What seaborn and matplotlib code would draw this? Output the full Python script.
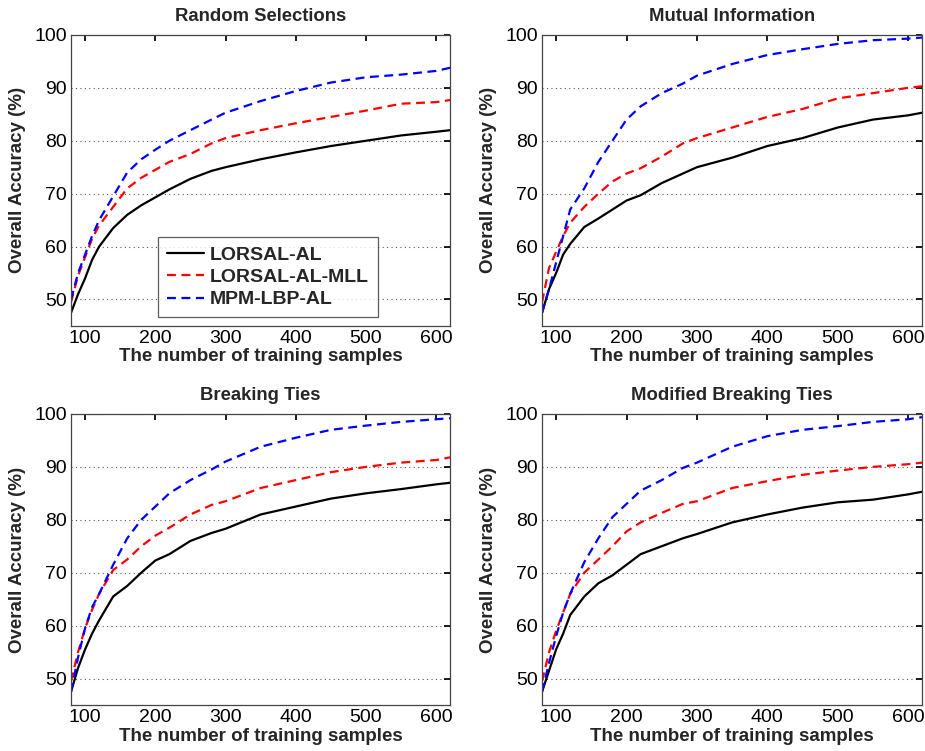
import pandas as pd
import matplotlib
matplotlib.use("Agg")
import matplotlib.pyplot as plt
import seaborn as sns

# Data
samples = [80, 90, 100, 110, 120, 140, 160, 180, 200, 220, 250, 280, 300, 350, 400, 450, 500, 550, 600, 620]

methods = ["LORSAL-AL", "LORSAL-AL-MLL", "MPM-LBP-AL"]
titles = ["Random Selections", "Mutual Information", "Breaking Ties", "Modified Breaking Ties"]

rs_lorsal = [47.5, 51, 54, 57.5, 60, 63.5, 66, 67.8, 69.3, 70.8, 72.8, 74.3, 75, 76.5, 77.8, 79, 80, 81, 81.7, 82]
rs_mll = [49.5, 54.5, 58, 61.5, 64, 67.5, 71, 73, 74.5, 76, 77.5, 79.5, 80.5, 82, 83.3, 84.5, 85.7, 87, 87.3, 87.7]
rs_mpm = [50, 55, 58.5, 62, 65, 69.5, 74, 76.5, 78.3, 80, 82, 84, 85.3, 87.5, 89.4, 91, 92, 92.5, 93.2, 93.8]

mi_lorsal = [47.5, 52, 55, 58.5, 60.5, 63.7, 65.3, 67, 68.7, 69.7, 72, 73.8, 75, 76.8, 79, 80.5, 82.5, 84, 84.8, 85.3]
mi_mll = [49.5, 56, 59, 62, 64.5, 67.5, 70, 72.3, 73.8, 74.8, 77, 79.5, 80.5, 82.5, 84.5, 86, 88, 89, 90, 90.3]
mi_mpm = [47.5, 52, 57, 62, 67, 71, 76, 80, 84, 86.5, 89, 90.8, 92.3, 94.5, 96.2, 97.3, 98.3, 99, 99.3, 99.5]

bt_lorsal = [47.5, 52, 55.5, 58.5, 61, 65.5, 67.5, 70, 72.3, 73.5, 76, 77.5, 78.3, 81, 82.5, 84, 85, 85.8, 86.7, 87]
bt_mll = [49.5, 55, 59.5, 63, 66, 70.5, 72.5, 75, 77, 78.5, 81, 82.8, 83.5, 86, 87.5, 89, 90, 90.8, 91.3, 91.8]
bt_mpm = [47.5, 54, 59.5, 63.5, 66, 71.5, 76.5, 80, 82.5, 85, 87.5, 89.5, 91, 93.8, 95.5, 97, 97.8, 98.5, 99, 99.2]

mbt_lorsal = [47.5, 51.5, 55.5, 58.5, 62, 65.5, 68, 69.5, 71.5, 73.5, 75, 76.5, 77.3, 79.5, 81, 82.3, 83.3, 83.8, 84.8, 85.3]
mbt_mll = [49.5, 55, 59, 62.5, 66, 70, 72.5, 75, 77.8, 79.5, 81.3, 83, 83.5, 86, 87.3, 88.5, 89.3, 90, 90.5, 90.8]
mbt_mpm = [47.5, 53, 58, 62.5, 66, 72, 76.5, 80.5, 83, 85.5, 87.5, 89.8, 90.8, 93.8, 95.8, 97, 97.7, 98.5, 99, 99.4]

panels = [
    (rs_lorsal, rs_mll, rs_mpm),
    (mi_lorsal, mi_mll, mi_mpm),
    (bt_lorsal, bt_mll, bt_mpm),
    (mbt_lorsal, mbt_mll, mbt_mpm),
]

# Style
sns.set_theme(style="white")
plt.rcParams["font.family"] = ["Liberation Sans", "DejaVu Sans"]

palette = {"LORSAL-AL": "#000000", "LORSAL-AL-MLL": "#ff0000", "MPM-LBP-AL": "#0000ff"}
dashes = {"LORSAL-AL": "", "LORSAL-AL-MLL": (4, 2.5), "MPM-LBP-AL": (4, 2.5)}

fig = plt.figure(figsize=(9.25, 7.51), dpi=100)

# axes boxes in figure fractions (left, bottom, width, height)
boxes = [
    (0.0768, 0.566, 0.410, 0.3875),
    (0.586, 0.566, 0.411, 0.3875),
    (0.0768, 0.0613, 0.410, 0.3875),
    (0.586, 0.0613, 0.411, 0.3875),
]

for i, (title, series) in enumerate(zip(titles, panels)):
    ax = fig.add_axes(boxes[i])
    rows = []
    for m, vals in zip(methods, series):
        for x, y in zip(samples, vals):
            rows.append({"samples": x, "accuracy": y, "method": m})
    df = pd.DataFrame(rows)

    sns.lineplot(
        data=df, x="samples", y="accuracy",
        hue="method", style="method",
        palette=palette, dashes=dashes,
        linewidth=1.6, legend=(i == 0), ax=ax,
    )

    ax.set_xlim(80, 620)
    ax.set_ylim(45, 100)
    ax.set_xticks([100, 200, 300, 400, 500, 600])
    ax.set_yticks([50, 60, 70, 80, 90, 100])
    ax.yaxis.grid(True, linestyle=(0, (1, 3)), color="#555555", linewidth=0.8)
    ax.set_axisbelow(True)

    ax.tick_params(direction="in", top=True, right=True, length=4,
                   labelsize=14, colors="black", pad=3)
    for sp in ax.spines.values():
        sp.set_color("#444444")
        sp.set_linewidth(0.9)

    ax.set_title(title, fontsize=13.3, fontweight="bold", pad=10)
    ax.set_xlabel("The number of training samples", fontsize=13.5, fontweight="bold", labelpad=1)
    ax.set_ylabel("Overall Accuracy (%)", fontsize=13.5, fontweight="bold", labelpad=6)

    if i == 0:
        leg = ax.legend(title=None, fontsize=14, loc="lower left",
                        bbox_to_anchor=(0.23, 0.03), borderaxespad=0,
                        frameon=True, fancybox=False, handlelength=1.9,
                        handletextpad=0.3, borderpad=0.45, labelspacing=0.25)
        leg.get_frame().set_edgecolor("#333333")
        leg.get_frame().set_linewidth(0.9)
        for t in leg.get_texts():
            t.set_fontweight("bold")

plt.savefig("out.png", dpi=100)
